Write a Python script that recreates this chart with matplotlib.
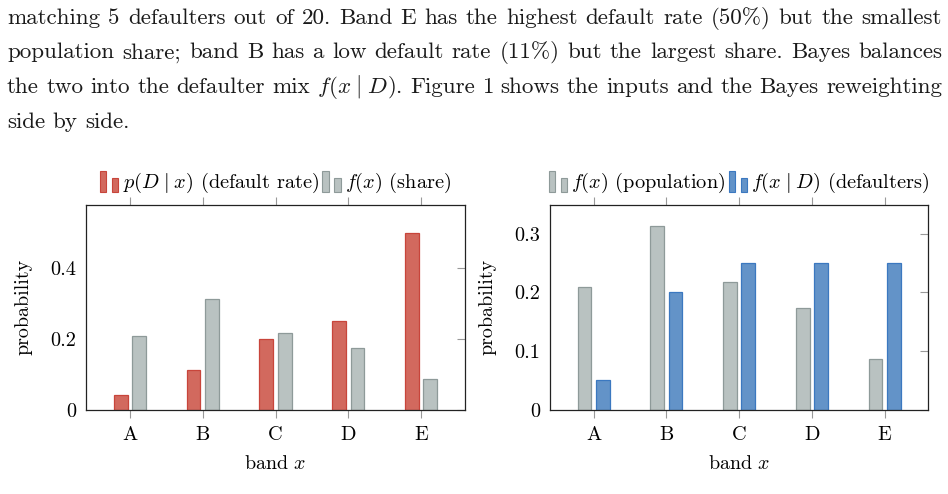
import re
import matplotlib
matplotlib.use("Agg")
import matplotlib.pyplot as plt
import numpy as np
from matplotlib.legend_handler import HandlerBase
from matplotlib.patches import Rectangle

plt.rcParams['mathtext.fontset'] = 'cm'
plt.rcParams['font.family'] = ['cmr10', 'DejaVu Serif']
plt.rcParams['axes.formatter.use_mathtext'] = True

# ---- data ----
bands = ['A', 'B', 'C', 'D', 'E']
default_rate = [0.042, 0.111, 0.200, 0.250, 0.500]     # p(D | x)
share = [0.209, 0.313, 0.217, 0.174, 0.087]            # f(x)
defaulter_mix = [0.050, 0.200, 0.250, 0.250, 0.250]    # f(x | D)

left_yticks = [0, 0.2, 0.4]
right_yticks = [0, 0.1, 0.2, 0.3]

paragraph = [
    "matching 5 defaulters out of 20. Band E has the highest default rate (50%) but the smallest",
    "population share; band B has a low default rate (11%) but the largest share. Bayes balances",
    r"the two into the defaulter mix $f(x\;|\;D)$. Figure 1 shows the inputs and the Bayes reweighting",
    "side by side.",
]

RED_F, RED_E = '#d2695e', '#c8453b'
GRY_F, GRY_E = '#b9c2c1', '#8e9a99'
BLU_F, BLU_E = '#6393c8', '#3b78c0'

W, H = 948, 494
fig = plt.figure(figsize=(W / 100, H / 100), dpi=100)


class TwoBarHandler(HandlerBase):
    def create_artists(self, legend, orig_handle, xdescent, ydescent,
                       width, height, fontsize, trans):
        fc = orig_handle.get_facecolor()
        ec = orig_handle.get_edgecolor()
        bw = width * 0.32
        h1 = height * 1.45
        h2 = height * 1.0
        y0 = -ydescent - height * 0.3
        r1 = Rectangle((-xdescent, y0), bw, h1, facecolor=fc, edgecolor=ec,
                       lw=0.8, transform=trans)
        r2 = Rectangle((-xdescent + width * 0.62, y0), bw, h2, facecolor=fc,
                       edgecolor=ec, lw=0.8, transform=trans)
        return [r1, r2]


def style_axes(ax, yticks, ylim):
    x = np.arange(len(bands))
    ax.set_xlim(-0.6, 4.6)
    ax.set_ylim(*ylim)
    ax.set_xticks(x)
    ax.set_xticklabels(bands)
    ax.set_yticks(yticks)
    ax.set_yticklabels(['0' if v == 0 else f'{v:.1f}' for v in yticks])
    ax.tick_params(axis='x', which='both', direction='out', top=True, bottom=True,
                   length=6, width=0.8, color='#999999', labelsize=14.6, pad=6)
    ax.tick_params(axis='y', which='both', direction='in', left=False, right=True,
                   length=6, width=0.8, color='#999999', labelsize=14.6, pad=7)
    for s in ax.spines.values():
        s.set_color('#222222')
        s.set_linewidth(0.9)
    ax.set_xlabel(r'band $x$', fontsize=14.4, labelpad=8)
    ax.set_ylabel('probability', fontsize=14.4, labelpad=13)


x = np.arange(len(bands))
bw = 0.19
off = 0.125

ax1 = fig.add_axes([86 / W, 1 - 409.7 / H, 379 / W, 204.7 / H])
b1 = ax1.bar(x - off, default_rate, bw, facecolor=RED_F, edgecolor=RED_E, lw=0.9,
             label=r'$p(D\;|\;x)$ (default rate)')
b2 = ax1.bar(x + off, share, bw, facecolor=GRY_F, edgecolor=GRY_E, lw=0.9,
             label=r'$f(x)$ (share)')
style_axes(ax1, left_yticks, (0, 0.579))

ax2 = fig.add_axes([550 / W, 1 - 409.7 / H, 378.3 / W, 204.7 / H])
b3 = ax2.bar(x - off, share, bw, facecolor=GRY_F, edgecolor=GRY_E, lw=0.9,
             label=r'$f(x)$ (population)')
b4 = ax2.bar(x + off, defaulter_mix, bw, facecolor=BLU_F, edgecolor=BLU_E, lw=0.9,
             label=r'$f(x\;|\;D)$ (defaulters)')
style_axes(ax2, right_yticks, (0, 0.349))

for ax, hs in ((ax1, [b1, b2]), (ax2, [b3, b4])):
    ax.legend(handles=[h.patches[0] for h in hs], labels=[h.get_label() for h in hs],
              handler_map={Rectangle: TwoBarHandler()}, loc='lower center',
              bbox_to_anchor=(0.5, 1.0), ncol=2, frameon=False, fontsize=14.6,
              handlelength=0.95, handletextpad=0.15, columnspacing=0.2,
              borderaxespad=0.3, borderpad=0.2)

# ---- paragraph text above the figure (justified) ----
fig.canvas.draw()
r = fig.canvas.get_renderer()
x0, x1 = 7, 942
baselines = [24, 58.5, 93, 127.5]
fs = 16.6
for i, (line, yb) in enumerate(zip(paragraph, baselines)):
    words = re.findall(r'\S*\$[^$]*\$\S*|\S+', line)
    texts = [fig.text(0, 1 - yb / H, w, fontsize=fs, va='baseline', ha='left',
                      color='#1a1a1a') for w in words]
    widths = [t.get_window_extent(r).width for t in texts]
    if i < len(paragraph) - 1:
        gap = (x1 - x0 - sum(widths)) / (len(words) - 1)
    else:
        gap = fs * 0.333 * 100 / 72
    xp = x0
    for t, w in zip(texts, widths):
        t.set_x(xp / W)
        xp += w + gap

fig.savefig('out.png', dpi=100)
